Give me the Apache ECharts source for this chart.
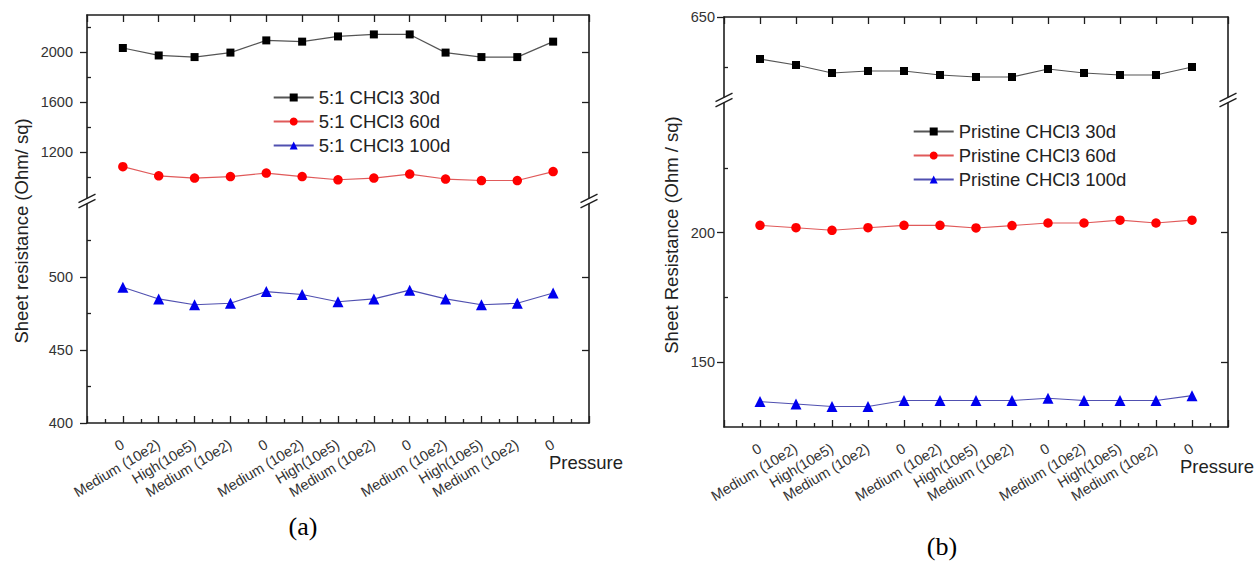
<!DOCTYPE html>
<html><head><meta charset="utf-8">
<script src="https://cdn.jsdelivr.net/npm/echarts@6/dist/echarts.min.js"></script>
<style>html,body{margin:0;padding:0;background:#fff}#c{width:1258px;height:562px}</style>
</head><body><div id="c"></div>
<script>
// ---- data ----
const pressureLabels = ['0','Medium (10e2)','High(10e5)','Medium (10e2)','0','Medium (10e2)','High(10e5)','Medium (10e2)','0','Medium (10e2)','High(10e5)','Medium (10e2)','0'];
const namesA = ['5:1 CHCl3 30d','5:1 CHCl3 60d','5:1 CHCl3 100d'];
const namesB = ['Pristine CHCl3 30d','Pristine CHCl3 60d','Pristine CHCl3 100d'];
const ratio30d  = [2035,1975,1962,1998,2096,2086,2128,2144,2144,1998,1962,1962,2086];
const ratio60d  = [1082,1008,990,1002,1030,1002,976,990,1022,982,970,970,1042];
const ratio100d = [493,485,481,482,490,488,483,485,491,485,481,482,489];
const pristine30d  = [608,602,594,596,596,592,590,590,598,594,592,592,600];
const pristine60d  = [202.8,201.9,200.9,201.9,202.8,202.8,201.8,202.7,203.7,203.7,204.8,203.7,204.8];
const pristine100d = [134.8,133.9,132.9,132.9,135.2,135.2,135.2,135.2,136.1,135.2,135.2,135.2,137.1];
// tick labels / tick values
const ticksAUpper = [2000,1600,1200], minorAUpper = [2200,1800,1400,1000];
const ticksALower = [500,450,400],   minorALower = [525,475,425];
const ticksBUpper = [650],           minorBUpper = [600];
const ticksBLower = [200,150],       minorBLower = [225,175];

// ---- styling ----
const FONT = '"Liberation Sans", Arial, Helvetica, sans-serif';
const AX = '#1e1e1e';
const axLine = {color: AX, width: 1.6};
const tkLine = {color: AX, width: 1.3};

function xAxisFor(gridIndex, pos, withLabels, extra) {
  return Object.assign({
    type: 'value', gridIndex, position: pos, min: -1, max: 13, interval: 1,
    axisLine: {show: true, onZero: false, lineStyle: axLine},
    axisTick: {show: true, inside: true, length: 7, lineStyle: tkLine},
    minorTick: {show: withLabels, splitNumber: 2, length: 4, lineStyle: tkLine},
    splitLine: {show: false}, minorSplitLine: {show: false},
    axisLabel: withLabels ? {
      show: true, rotate: 31, margin: 20, fontSize: 14.5, color: '#333', fontFamily: FONT,
      formatter: v => (pressureLabels[Math.round(v)] !== undefined && Math.abs(v - Math.round(v)) < 1e-6) ? pressureLabels[Math.round(v)] : ''
    } : {show: false}
  }, extra || {});
}
function yAxesFor(gridIndex, min, max, majors, minors, rightTicks, margin) {
  const base = {type: 'value', gridIndex, min, max, splitLine: {show: false}};
  return [
    Object.assign({}, base, {position: 'left',
      axisLine: {show: true, onZero: false, lineStyle: axLine},
      axisTick: {show: true, inside: false, length: 7, customValues: majors, lineStyle: tkLine},
      axisLabel: {show: true, customValues: majors, margin, fontSize: 14.5, color: '#333', fontFamily: FONT,
                  formatter: v => String(Math.round(v))}}),
    Object.assign({}, base, {position: 'left',
      axisLine: {show: false, onZero: false},
      axisTick: {show: true, inside: true, length: 4, customValues: minors, lineStyle: tkLine},
      axisLabel: {show: false}}),
    Object.assign({}, base, {position: 'right',
      axisLine: {show: true, onZero: false, lineStyle: axLine},
      axisTick: {show: true, inside: true, length: 7, customValues: rightTicks, lineStyle: tkLine},
      axisLabel: {show: false}})
  ];
}
const pressureName = (gap) => ({
  name: 'Pressure', nameLocation: 'end', nameGap: gap, nameMoveOverlap: false,
  nameTextStyle: {fontSize: 18.5, color: '#222', fontFamily: FONT, align: 'left', verticalAlign: 'top', padding: [30, 0, 0, 0]}
});

const styles = [
  {symbol: 'rect', symbolSize: 8, itemStyle: {color: '#000'}, lineStyle: {color: '#555', width: 1.2}},
  {symbol: 'circle', symbolSize: 9.5, itemStyle: {color: '#ff0000'}, lineStyle: {color: '#e05a5a', width: 1.1}},
  {symbol: 'triangle', symbolSize: 11, itemStyle: {color: '#0000ee'}, lineStyle: {color: '#5050b0', width: 1.1}}
];
function mkSeries(name, values, xi, yi, st) {
  return Object.assign({type: 'line', name, xAxisIndex: xi, yAxisIndex: yi,
    data: values.map((v, i) => [i, v]), showSymbol: true, animation: false, z: 3}, st);
}
function breakMarks(x, yc) {
  const mk = dy => ({type: 'line', z: 100, shape: {x1: x - 8.5, y1: yc + dy + 4.2, x2: x + 8.5, y2: yc + dy - 4.2},
    style: {stroke: AX, lineWidth: 1.5}});
  return [mk(-2.6), mk(2.6)];
}

const option = {
  backgroundColor: '#fff',
  animation: false,
  grid: [
    {left: 87, width: 502, top: 15, height: 183, outerBoundsMode: 'none'},
    {left: 87, width: 502, top: 204, height: 219, outerBoundsMode: 'none'},
    {left: 724, width: 504, top: 17, height: 80, outerBoundsMode: 'none'},
    {left: 724, width: 504, top: 103, height: 324, outerBoundsMode: 'none'}
  ],
  xAxis: [
    xAxisFor(0, 'top', false),
    xAxisFor(1, 'bottom', true, pressureName(-40)),
    xAxisFor(2, 'top', false),
    xAxisFor(3, 'bottom', true, pressureName(-48))
  ],
  yAxis: [].concat(
    yAxesFor(0, 830, 2300, ticksAUpper, minorAUpper, ticksAUpper, 14),
    yAxesFor(1, 400, 550, ticksALower, minorALower, [500, 450], 14),
    yAxesFor(2, 570, 650, ticksBUpper, minorBUpper, [], 9),
    yAxesFor(3, 125, 250, ticksBLower, minorBLower, ticksBLower, 9)
  ),
  legend: [
    {orient: 'vertical', left: 272.7, top: 88, padding: 0, itemWidth: 40, itemHeight: 10, itemGap: 5,
     selectedMode: false, data: namesA, textStyle: {fontSize: 18.5, lineHeight: 18, color: '#222', fontFamily: FONT}},
    {orient: 'vertical', left: 912.7, top: 122, padding: 0, itemWidth: 40, itemHeight: 10, itemGap: 5,
     selectedMode: false, data: namesB, textStyle: {fontSize: 18.5, lineHeight: 18, color: '#222', fontFamily: FONT}}
  ],
  series: [
    mkSeries(namesA[0], ratio30d, 0, 0, styles[0]),
    mkSeries(namesA[1], ratio60d, 0, 0, styles[1]),
    mkSeries(namesA[2], ratio100d, 1, 3, styles[2]),
    mkSeries(namesB[0], pristine30d, 2, 6, styles[0]),
    mkSeries(namesB[1], pristine60d, 3, 9, styles[1]),
    mkSeries(namesB[2], pristine100d, 3, 9, styles[2])
  ],
  graphic: [].concat(
    breakMarks(87, 201), breakMarks(589, 201), breakMarks(724, 100), breakMarks(1228, 100),
    [
      {type: 'text', x: 21, y: 231, rotation: Math.PI / 2, z: 100,
       style: {text: 'Sheet resistance (Ohm/ sq)', fontSize: 18.5, fill: '#222', fontFamily: FONT, align: 'center', verticalAlign: 'middle'}},
      {type: 'text', x: 671, y: 235, rotation: Math.PI / 2, z: 100,
       style: {text: 'Sheet Resistance (Ohm / sq)', fontSize: 18.5, fill: '#222', fontFamily: FONT, align: 'center', verticalAlign: 'middle'}},
      {type: 'text', x: 303, y: 526, z: 100,
       style: {text: '(a)', fontSize: 26, fill: '#000', fontFamily: '"Liberation Serif", "Times New Roman", serif', align: 'center', verticalAlign: 'middle'}},
      {type: 'text', x: 942, y: 546, z: 100,
       style: {text: '(b)', fontSize: 26, fill: '#000', fontFamily: '"Liberation Serif", "Times New Roman", serif', align: 'center', verticalAlign: 'middle'}}
    ]
  )
};
const chart = echarts.init(document.getElementById('c'), null, {renderer: 'svg'});
chart.setOption(option);
</script>
</body></html>
